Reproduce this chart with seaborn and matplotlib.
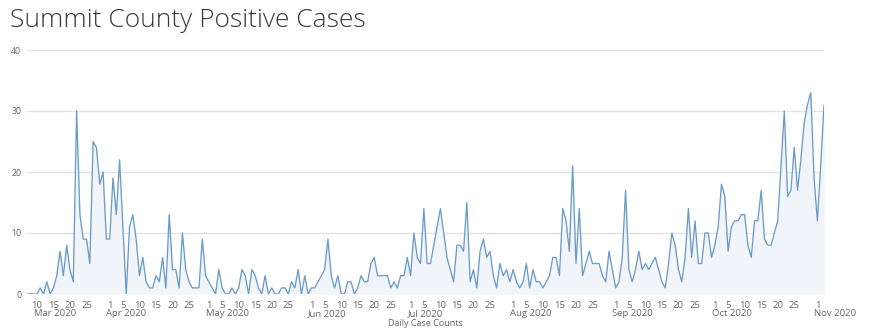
import matplotlib
matplotlib.use("Agg")
import matplotlib.pyplot as plt
import matplotlib.dates as mdates
import matplotlib.transforms as mtransforms
import numpy as np
import pandas as pd
import seaborn as sns

# Daily positive case counts, 7 Mar 2020 - 3 Nov 2020
mar_cases = [0, 0, 0, 0, 1, 0, 2, 0, 1, 3, 7, 3, 8, 4, 2, 30, 13, 9, 9, 5,
             25, 24, 18, 20, 9]
apr_cases = [9, 19, 13, 22, 11, 0, 11, 13, 9, 3, 6, 2, 1, 1, 3, 2, 6, 1, 13, 4,
             4, 1, 10, 4, 2, 1, 1, 1, 9, 3]
may_cases = [2, 1, 0, 4, 1, 0, 0, 1, 0, 1, 4, 3, 0, 4, 3, 1, 0, 3, 0, 1,
             0, 0, 1, 1, 0, 2, 1, 4, 0, 3, 0]
jun_cases = [1, 1, 2, 3, 4, 9, 3, 1, 3, 0, 0, 2, 2, 0, 1, 3, 2, 2, 5, 6,
             3, 3, 3, 3, 1, 2, 1, 3, 3, 6]
jul_cases = [3, 10, 6, 5, 14, 5, 5, 8, 11, 14, 10, 6, 4, 2, 8, 8, 7, 15, 2, 4,
             1, 7, 9, 6, 7, 3, 1, 5, 3, 4, 2]
aug_cases = [4, 2, 1, 2, 5, 1, 4, 2, 2, 1, 2, 3, 6, 6, 3, 14, 12, 7, 21, 5,
             14, 3, 5, 7, 5, 5, 5, 3, 2, 7, 4]
sep_cases = [1, 2, 6, 17, 4, 2, 4, 7, 4, 5, 4, 5, 6, 4, 2, 1, 5, 10, 8, 4,
             2, 6, 14, 6, 12, 5, 5, 10, 10, 6]
oct_cases = [8, 11, 18, 16, 7, 11, 12, 12, 13, 13, 8, 6, 12, 12, 17, 9, 8, 8, 10, 12,
             21, 30, 16, 17, 24, 17, 22, 28, 31, 33, 19]
nov_cases = [12, 21, 31]

first_day = "2020-03-07"
tick_days = [1, 5, 10, 15, 20, 25]

cases = mar_cases + apr_cases + may_cases + jun_cases + jul_cases + aug_cases \
    + sep_cases + oct_cases + nov_cases
dates = pd.date_range(first_day, periods=len(cases), freq="D")
df = pd.DataFrame({"date": dates, "cases": cases})

sns.set_style("white")
plt.rcParams["font.family"] = ["Open Sans", "DejaVu Sans"]

W, H = 880, 328
fig = plt.figure(figsize=(W / 100, H / 100), dpi=100)
ax = fig.add_axes([27 / W, 34 / H, (824 - 27) / W, (294 - 50) / H])

line_color = "#6a9cca"
ax.fill_between(df["date"], df["cases"], 0, color="#f1f5fa", lw=0, zorder=1)
sns.lineplot(data=df, x="date", y="cases", ax=ax, color=line_color,
             linewidth=0.95, zorder=3)

ax.set_xlim(dates[0], dates[-1])
ax.set_ylim(0, 40)
ax.set_yticks([0, 10, 20, 30, 40])
ax.yaxis.grid(True, color="#e3e3e3", linewidth=1.0, zorder=0)
ax.xaxis.grid(False)
for s in ax.spines.values():
    s.set_visible(False)

tick_dates = [d for d in pd.date_range(dates[0], dates[-1], freq="D")
              if d.day in tick_days]
ax.set_xticks(tick_dates)
ax.set_xticklabels([str(d.day) for d in tick_dates])
ax.tick_params(axis="x", length=3.6, width=0.8, color="#cccccc", pad=1.2,
               labelsize=6.8, labelcolor="#666666")
ax.tick_params(axis="y", length=0, pad=4, labelsize=6.3, labelcolor="#666666")
ax.set_xlabel("")
ax.set_ylabel("")

# Month labels under the first tick of each month
trans = mtransforms.blended_transform_factory(ax.transData, ax.transAxes)
seen = set()
for d in tick_dates:
    key = (d.year, d.month)
    if key in seen:
        continue
    seen.add(key)
    ax.annotate(d.strftime("%b %Y"), xy=(mdates.date2num(d), 0), xycoords=trans,
                xytext=(-2.4, -10.6), textcoords="offset points",
                ha="left", va="top", fontsize=6.8, color="#666666")

ax.annotate("Daily Case Counts", xy=(0.5, 0), xycoords="axes fraction",
            xytext=(0, -17.8), textcoords="offset points",
            ha="center", va="top", fontsize=6.5, color="#666666")

fig.text(10 / W, 1 - 27 / H, "Summit County Positive Cases",
         fontsize=19.0, color="#3a3a3a", fontweight="light",
         ha="left", va="baseline")

fig.savefig("out.png", dpi=100)
